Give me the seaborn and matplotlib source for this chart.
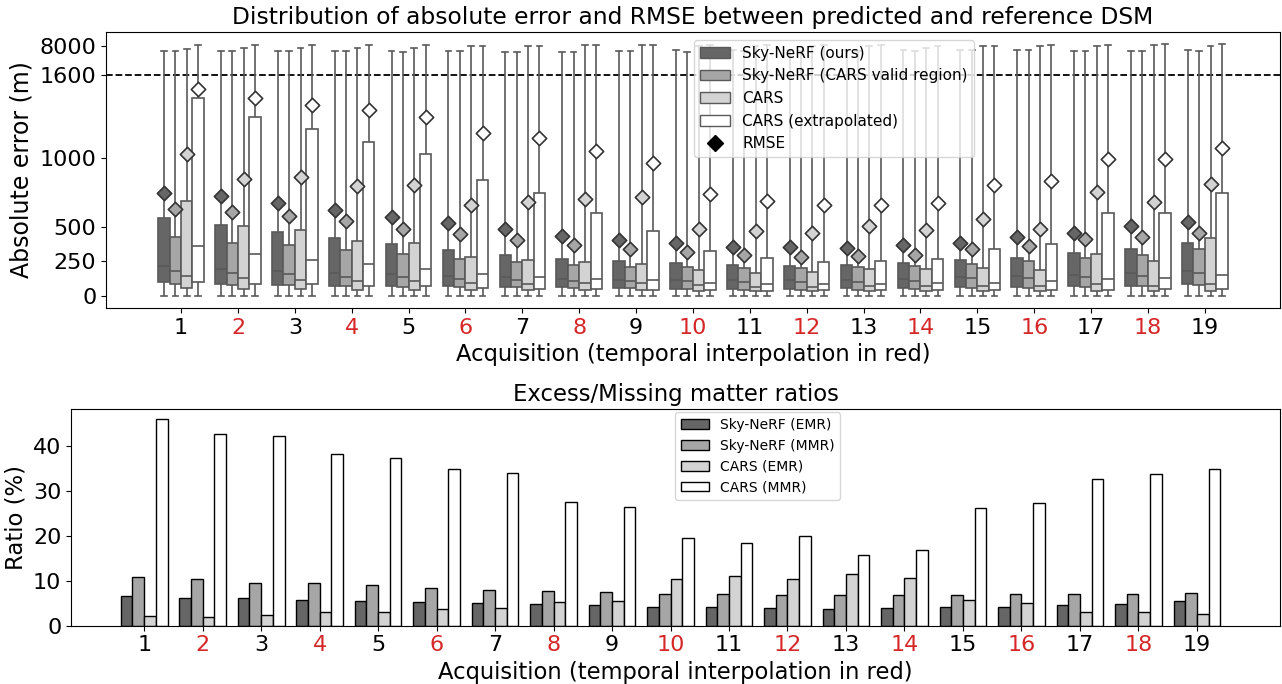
import numpy as np
import pandas as pd
import matplotlib
matplotlib.use('Agg')
import matplotlib.pyplot as plt
import seaborn as sns
from matplotlib.patches import Patch
from matplotlib.lines import Line2D

# acquisitions (even ones are temporal interpolations)
acquisitions = [str(i) for i in range(1, 20)]

box_methods = ['Sky-NeRF (ours)', 'Sky-NeRF (CARS valid region)', 'CARS', 'CARS (extrapolated)']
box_colors = ['#666666', '#a6a6a6', '#d3d3d3', '#ffffff']

# absolute error stats (m)
nerf_q1 = [98, 88, 81, 74, 74, 69, 62, 62, 57, 52, 52, 52, 57, 57, 64, 64, 69, 74, 88]
nerf_med = [213, 197, 177, 168, 155, 141, 136, 124, 117, 117, 112, 112, 117, 124, 134, 141, 148, 168, 182]
nerf_q3 = [563, 512, 464, 421, 372, 329, 293, 269, 249, 235, 221, 218, 226, 237, 257, 273, 307, 341, 385]
nerf_max = [7036, 7036, 7036, 7036, 7036, 7036, 6745, 6745, 6900, 7260, 7100, 7100, 7100, 7260, 7260, 7260, 7036, 7036, 7260]
nerf_rmse = [748, 720, 674, 623, 568, 527, 483, 435, 401, 385, 356, 353, 346, 365, 385, 425, 454, 503, 534]

valid_q1 = [88, 81, 76, 71, 64, 64, 62, 57, 57, 50, 45, 45, 45, 47, 59, 59, 66, 69, 81]
valid_med = [180, 165, 155, 139, 134, 122, 117, 110, 110, 105, 103, 103, 103, 107, 127, 129, 136, 146, 165]
valid_q3 = [428, 385, 367, 334, 300, 269, 245, 221, 211, 208, 204, 201, 206, 213, 233, 249, 276, 298, 339]
valid_max = [7036, 7036, 7036, 7036, 6745, 7036, 6745, 6745, 6900, 6745, 6900, 6900, 6900, 6900, 7260, 7260, 7036, 7036, 7036]
valid_rmse = [628, 604, 575, 539, 483, 447, 406, 370, 336, 315, 298, 281, 286, 298, 341, 358, 408, 428, 452]

cars_q1 = [57, 52, 49, 45, 45, 40, 40, 40, 40, 35, 33, 35, 33, 35, 35, 35, 35, 35, 38]
cars_med = [146, 129, 117, 110, 105, 95, 88, 90, 90, 78, 64, 66, 71, 71, 71, 74, 85, 74, 88]
cars_q3 = [688, 507, 476, 396, 385, 281, 262, 245, 228, 184, 168, 170, 194, 194, 201, 189, 305, 249, 421]
cars_max = [7416, 7550, 7550, 7550, 7550, 8150, 8150, 8380, 8380, 8000, 8000, 8000, 8000, 7640, 8150, 8000, 8000, 8380, 8000]
cars_rmse = [1025, 847, 857, 792, 801, 659, 676, 703, 714, 481, 469, 454, 503, 474, 558, 483, 751, 676, 811]

extra_q1 = [100, 88, 83, 69, 69, 57, 52, 47, 45, 40, 35, 40, 40, 40, 40, 45, 45, 49, 49]
extra_med = [358, 300, 257, 228, 197, 160, 134, 124, 112, 95, 83, 88, 83, 95, 95, 105, 122, 129, 148]
extra_q3 = [1430, 1296, 1206, 1115, 1030, 842, 748, 602, 469, 324, 273, 247, 254, 266, 341, 372, 602, 602, 746]
extra_max = [8310, 8310, 8310, 8310, 8310, 8150, 8150, 8380, 8380, 8200, 8200, 8200, 8200, 8000, 8150, 8380, 8380, 8600, 8600]
extra_rmse = [1498, 1430, 1382, 1344, 1298, 1180, 1139, 1050, 965, 736, 683, 654, 657, 669, 804, 830, 992, 989, 1069]

# excess / missing matter ratios (%)
bar_metrics = ['Sky-NeRF (EMR)', 'Sky-NeRF (MMR)', 'CARS (EMR)', 'CARS (MMR)']
nerf_emr = [6.6, 6.2, 6.1, 5.7, 5.4, 5.3, 5.1, 4.8, 4.5, 4.2, 4.1, 3.9, 3.7, 3.9, 4.1, 4.2, 4.5, 4.9, 5.4]
nerf_mmr = [10.9, 10.3, 9.6, 9.4, 9.0, 8.4, 7.9, 7.7, 7.4, 7.1, 7.1, 6.8, 6.8, 6.8, 6.8, 7.0, 7.1, 7.1, 7.3]
cars_emr = [2.15, 2.0, 2.4, 3.0, 3.1, 3.8, 3.9, 5.3, 5.6, 10.4, 11.0, 10.3, 11.5, 10.6, 5.8, 5.1, 3.1, 3.0, 2.5]
cars_mmr = [45.9, 42.7, 42.1, 38.1, 37.4, 34.8, 33.9, 27.6, 26.3, 19.5, 18.4, 20.0, 15.8, 16.8, 26.1, 27.3, 32.7, 33.7, 34.9]

# build long tables: each box from its five stats, whiskers cover min..max
box_stats = [
    (nerf_q1, nerf_med, nerf_q3, nerf_max),
    (valid_q1, valid_med, valid_q3, valid_max),
    (cars_q1, cars_med, cars_q3, cars_max),
    (extra_q1, extra_med, extra_q3, extra_max),
]
rows = []
for m, (q1, med, q3, top) in zip(box_methods, box_stats):
    for i, a in enumerate(acquisitions):
        for v in (0, q1[i], med[i], q3[i], top[i]):
            rows.append({'acq': a, 'method': m, 'value': v})
box_df = pd.DataFrame(rows)

rmse_df = pd.DataFrame({
    'acq': acquisitions * 4,
    'method': np.repeat(box_methods, len(acquisitions)),
    'rmse': nerf_rmse + valid_rmse + cars_rmse + extra_rmse,
})

bar_df = pd.DataFrame({
    'acq': acquisitions * 4,
    'metric': np.repeat(bar_metrics, len(acquisitions)),
    'ratio': nerf_emr + nerf_mmr + cars_emr + cars_mmr,
})

BREAK = 1600
SQUEEZE = 31.0


def fwd(y):
    y = np.asarray(y, dtype=float)
    return np.where(y <= BREAK, y, BREAK + (y - BREAK) / SQUEEZE)


def inv(t):
    t = np.asarray(t, dtype=float)
    return np.where(t <= BREAK, t, BREAK + (t - BREAK) * SQUEEZE)


fig = plt.figure(figsize=(12.82, 6.84), dpi=100)
ax1 = fig.add_axes([0.0827, 0.5497, 0.9157, 0.4035])
ax2 = fig.add_axes([0.0554, 0.0852, 0.9430, 0.3168])

# --- top: absolute error boxes + RMSE diamonds
sns.boxplot(data=box_df, x='acq', y='value', hue='method', hue_order=box_methods,
            palette=box_colors, whis=(0, 100), width=0.8, saturation=1,
            linecolor='0.35', linewidth=1.2, showfliers=False, legend=False, ax=ax1)
sns.stripplot(data=rmse_df, x='acq', y='rmse', hue='method', hue_order=box_methods,
              palette=box_colors, dodge=True, jitter=False, marker='D', size=7.3,
              edgecolor='0.2', linewidth=1.2, legend=False, zorder=4, ax=ax1)
ax1.axhline(BREAK, color='black', ls='--', lw=1.3, zorder=1)
ax1.set_yscale('function', functions=(fwd, inv))
ax1.set_ylim(-88, 11200)
ax1.set_yticks([0, 250, 500, 1000, 1600, 8000])
ax1.set_yticklabels(['0', '250', '500', '1000', '1600', '8000'])
ax1.set_xlim(-1.32, 19.32)
ax1.set_title('Distribution of absolute error and RMSE between predicted and reference DSM', fontsize=16.8)
ax1.set_xlabel('Acquisition (temporal interpolation in red)', fontsize=16.3)
ax1.set_ylabel('Absolute error (m)', fontsize=17)
ax1.tick_params(labelsize=16)

handles = [Patch(facecolor=c, edgecolor='0.35', label=m) for m, c in zip(box_methods, box_colors)]
handles.append(Line2D([], [], marker='D', color='black', ls='', markersize=8, label='RMSE'))
ax1.legend(handles=handles, loc='upper left', bbox_to_anchor=(0.494, 1.0), fontsize=11)

# --- bottom: EMR / MMR bars
sns.barplot(data=bar_df, x='acq', y='ratio', hue='metric', hue_order=bar_metrics,
            palette=box_colors, saturation=1, width=0.8, edgecolor='black',
            linewidth=1, ax=ax2)
ax2.set_xlim(-1.25, 19.42)
ax2.set_ylim(0, 48.2)
ax2.set_yticks([0, 10, 20, 30, 40])
ax2.set_title('Excess/Missing matter ratios', fontsize=16.4)
ax2.set_xlabel('Acquisition (temporal interpolation in red)', fontsize=16.3)
ax2.set_ylabel('Ratio (%)', fontsize=16.4)
ax2.tick_params(labelsize=16)
h, l = ax2.get_legend_handles_labels()
ax2.legend(h, l, loc='upper left', bbox_to_anchor=(0.494, 1.018), fontsize=10)

for ax in (ax1, ax2):
    for lbl in ax.get_xticklabels():
        if int(lbl.get_text()) % 2 == 0:
            lbl.set_color('tab:red')

fig.savefig('out.png', dpi=100)
